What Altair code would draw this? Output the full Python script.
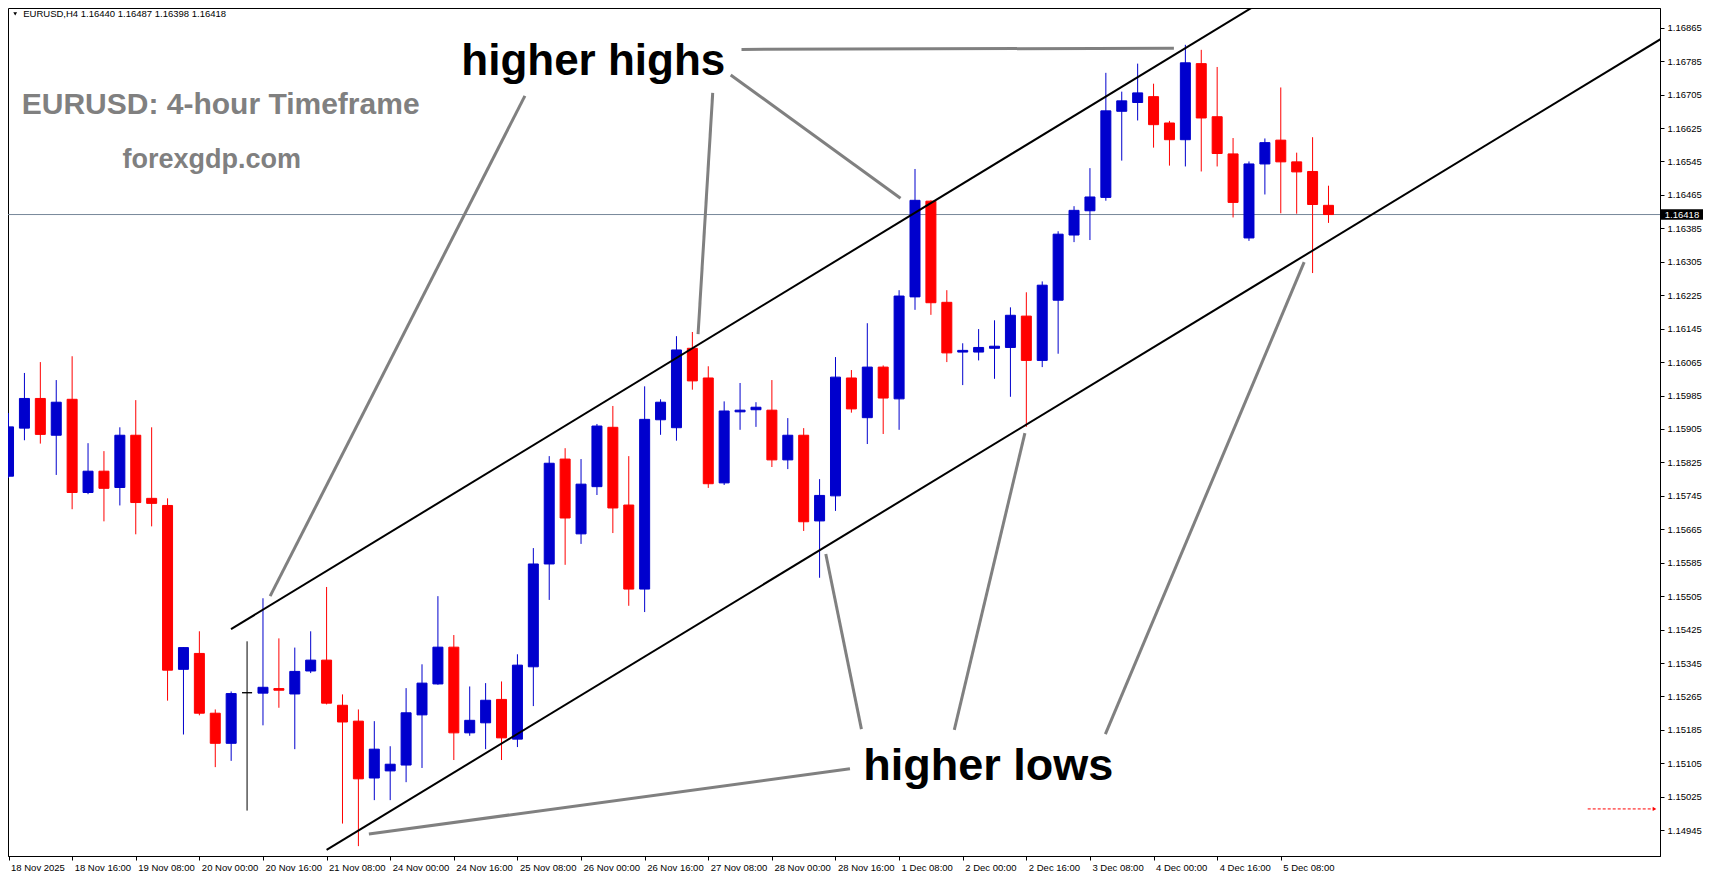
import json
import altair as alt
import pandas as pd

# ---------------- data ----------------
candle_index = list(range(84))
opens = [1.15792, 1.15907, 1.15978, 1.15890, 1.15976, 1.15753, 1.15804, 1.15765, 1.15890, 1.15739,
         1.15722, 1.15330, 1.15368, 1.15225, 1.15153, 1.15274, 1.15273, 1.15284, 1.15271, 1.15326,
         1.15352, 1.15244, 1.15206, 1.15070, 1.15087, 1.15101, 1.15221, 1.15295, 1.15383, 1.15178,
         1.15202, 1.15258, 1.15163, 1.15336, 1.15582, 1.15833, 1.15654, 1.15767, 1.15909, 1.15723,
         1.15522, 1.15927, 1.15908, 1.16098, 1.16027, 1.15776, 1.15946, 1.15951, 1.15950, 1.15831,
         1.15890, 1.15685, 1.15745, 1.16027, 1.15932, 1.16053, 1.15977, 1.16221, 1.16450, 1.16208,
         1.16089, 1.16089, 1.16098, 1.16100, 1.16175, 1.16069, 1.16213, 1.16369, 1.16427, 1.16459,
         1.16665, 1.16686, 1.16700, 1.16637, 1.16597, 1.16779, 1.16652, 1.16563, 1.16362, 1.16539,
         1.16596, 1.16544, 1.16521, 1.16440]
highs = [1.15943, 1.16039, 1.16065, 1.16022, 1.16079, 1.15871, 1.15852, 1.15909, 1.15974, 1.15909,
         1.15739, 1.15383, 1.15421, 1.15234, 1.15277, 1.15397, 1.15500, 1.15404, 1.15382, 1.15421,
         1.15527, 1.15270, 1.15234, 1.15206, 1.15146, 1.15285, 1.15342, 1.15505, 1.15412, 1.15289,
         1.15297, 1.15301, 1.15366, 1.15620, 1.15840, 1.15859, 1.15833, 1.15917, 1.15960, 1.15840,
         1.16007, 1.15976, 1.16127, 1.16137, 1.16055, 1.15971, 1.16015, 1.15969, 1.16022, 1.15931,
         1.15907, 1.15785, 1.16077, 1.16046, 1.16158, 1.16057, 1.16237, 1.16527, 1.16452, 1.16237,
         1.16110, 1.16144, 1.16165, 1.16196, 1.16232, 1.16258, 1.16378, 1.16438, 1.16529, 1.16757,
         1.16712, 1.16779, 1.16731, 1.16642, 1.16824, 1.16812, 1.16771, 1.16601, 1.16545, 1.16600,
         1.16722, 1.16566, 1.16603, 1.16487]
lows = [1.15788, 1.15878, 1.15870, 1.15795, 1.15713, 1.15749, 1.15684, 1.15722, 1.15653, 1.15672,
        1.15255, 1.15174, 1.15220, 1.15096, 1.15111, 1.14992, 1.15196, 1.15238, 1.15139, 1.15321,
        1.15246, 1.14961, 1.14907, 1.15017, 1.15017, 1.15060, 1.15094, 1.15293, 1.15113, 1.15171,
        1.15139, 1.15113, 1.15144, 1.15242, 1.15496, 1.15580, 1.15630, 1.15747, 1.15656, 1.15482,
        1.15467, 1.15891, 1.15877, 1.15999, 1.15764, 1.15771, 1.15903, 1.15910, 1.15814, 1.15809,
        1.15661, 1.15549, 1.15709, 1.15944, 1.15869, 1.15893, 1.15903, 1.16190, 1.16178, 1.16065,
        1.16010, 1.16069, 1.16025, 1.15982, 1.15910, 1.16053, 1.16085, 1.16352, 1.16357, 1.16451,
        1.16547, 1.16643, 1.16578, 1.16535, 1.16533, 1.16521, 1.16533, 1.16411, 1.16355, 1.16466,
        1.16421, 1.16420, 1.16278, 1.16398]
closes = [1.15910, 1.15978, 1.15892, 1.15969, 1.15753, 1.15804, 1.15763, 1.15890, 1.15729, 1.15727,
          1.15328, 1.15382, 1.15225, 1.15153, 1.15272, 1.15274, 1.15287, 1.15280, 1.15325, 1.15352,
          1.15249, 1.15204, 1.15068, 1.15139, 1.15103, 1.15226, 1.15297, 1.15383, 1.15178, 1.15208,
          1.15256, 1.15166, 1.15340, 1.15582, 1.15823, 1.15692, 1.15773, 1.15912, 1.15716, 1.15522,
          1.15928, 1.15969, 1.16094, 1.16020, 1.15774, 1.15948, 1.15950, 1.15957, 1.15831, 1.15890,
          1.15683, 1.15746, 1.16029, 1.15953, 1.16053, 1.15979, 1.16223, 1.16452, 1.16207, 1.16087,
          1.16093, 1.16100, 1.16103, 1.16177, 1.16069, 1.16249, 1.16371, 1.16428, 1.16460, 1.16666,
          1.16690, 1.16709, 1.16633, 1.16597, 1.16781, 1.16649, 1.16564, 1.16447, 1.16539, 1.16590,
          1.16544, 1.16520, 1.16442, 1.16418]

x_tick_values = [0, 4, 8, 12, 16, 20, 24, 28, 32, 36, 40, 44, 48, 52, 56, 60, 64, 68, 72, 76, 80]
x_tick_labels = ["18 Nov 2025", "18 Nov 16:00", "19 Nov 08:00", "20 Nov 00:00", "20 Nov 16:00",
                 "21 Nov 08:00", "24 Nov 00:00", "24 Nov 16:00", "25 Nov 08:00", "26 Nov 00:00",
                 "26 Nov 16:00", "27 Nov 08:00", "28 Nov 00:00", "28 Nov 16:00", "1 Dec 08:00",
                 "2 Dec 00:00", "2 Dec 16:00", "3 Dec 08:00", "4 Dec 00:00", "4 Dec 16:00",
                 "5 Dec 08:00"]
y_tick_values = [1.16865, 1.16785, 1.16705, 1.16625, 1.16545, 1.16465, 1.16385, 1.16305, 1.16225,
                 1.16145, 1.16065, 1.15985, 1.15905, 1.15825, 1.15745, 1.15665, 1.15585, 1.15505,
                 1.15425, 1.15345, 1.15265, 1.15185, 1.15105, 1.15025, 1.14945]

current_price = 1.16418
header_text = "EURUSD,H4  1.16440 1.16487 1.16398 1.16418"

# channel lines (segment id, index, price)
channel_seg = ["upper", "upper", "lower", "lower"]
channel_x = [13.99, 78.66, 20.0, 104.07]
channel_y = [1.15426, 1.16924, 1.14898, 1.16842]

# grey annotation pointers
pointer_seg = ["A", "A", "B", "B", "C", "C", "D", "D", "E", "E", "F", "F", "G", "G", "H", "H"]
pointer_x = [46.09, 73.28, 32.47, 16.45, 44.28, 43.36, 45.41, 56.09,
             22.66, 52.91, 53.63, 51.39, 59.47, 63.91, 68.97, 81.47]
pointer_y = [1.16813, 1.16816, 1.16702, 1.15505, 1.16709, 1.16132, 1.16752, 1.16457,
             1.14936, 1.15092, 1.15187, 1.15606, 1.15185, 1.15895, 1.15175, 1.16304]

label_text = ["higher highs", "higher lows"]
label_x = [28.47, 53.75]
label_y = [1.16752, 1.15066]
label_size = [44, 45]

title_text = ["EURUSD: 4-hour Timeframe"]
title_x = [0.83]
title_y = [1.16658]
site_text = ["forexgdp.com"]
site_x = [7.17]
site_y = [1.16530]

shift_marker_x = [99.3, 103.5]
shift_marker_y = 1.14996

# ---------------- chart ----------------
W, H = 1652, 848
x_scale = alt.Scale(domain=[0.28125, 0.28125 + W / 16], nice=False, zero=False)
y_scale = alt.Scale(domain=[1.148834, 1.169121], nice=False, zero=False)

df = pd.DataFrame({"i": candle_index, "open": opens, "high": highs, "low": lows, "close": closes})
df["dir"] = ["up" if c > o else ("down" if c < o else "flat") for o, c in zip(opens, closes)]
col_scale = alt.Scale(domain=["up", "down", "flat"], range=["#0000CD", "#FF0000", "#000000"])

FONT = "Liberation Sans"
label_expr = json.dumps(x_tick_labels) + "[round(datum.value / 4)]"

x_axis = alt.Axis(values=x_tick_values, labelExpr=label_expr, labelAlign="left", labelOffset=2,
                  labelPadding=2, tickSize=4, tickColor="black", domainColor="black",
                  labelFont=FONT, labelFontSize=9.5, labelColor="black", grid=False, title=None,
                  labelOverlap=False, labelFlush=False, labelBound=False)
y_axis = alt.Axis(orient="right", values=y_tick_values, format=".5f", tickSize=4, labelPadding=3,
                  tickColor="black", domainColor="black", labelFont=FONT, labelFontSize=9.5,
                  labelColor="black", grid=False, title=None, labelOverlap=False, labelFlush=False)


def X(field):
    return alt.X(field, scale=x_scale, axis=x_axis)


def Y(field):
    return alt.Y(field, scale=y_scale, axis=y_axis)


price_line = alt.Chart(pd.DataFrame({"p": [current_price]})).mark_rule(
    color="#778899", strokeWidth=1).encode(y=Y("p:Q"))

wicks = alt.Chart(df).mark_rule(strokeWidth=1, clip=True).encode(
    x=X("i:Q"), y=Y("low:Q"), y2="high:Q",
    color=alt.Color("dir:N", scale=col_scale, legend=None))

bodies = alt.Chart(df).mark_bar(size=10, strokeWidth=1, clip=True).encode(
    x=X("i:Q"), y=Y("open:Q"), y2="close:Q",
    color=alt.Color("dir:N", scale=col_scale, legend=None),
    stroke=alt.Stroke("dir:N", scale=col_scale, legend=None))

ch_df = pd.DataFrame({"seg": channel_seg, "x": channel_x, "y": channel_y})
channel = alt.Chart(ch_df).mark_line(color="black", strokeWidth=2, clip=True).encode(
    x=X("x:Q"), y=Y("y:Q"), detail="seg:N")

pt_df = pd.DataFrame({"seg": pointer_seg, "x": pointer_x, "y": pointer_y})
pointers = alt.Chart(pt_df).mark_line(color="#808080", strokeWidth=3, clip=True).encode(
    x=X("x:Q"), y=Y("y:Q"), detail="seg:N")

labels = alt.Chart(pd.DataFrame({"t": label_text, "x": label_x, "y": label_y,
                                 "s": label_size})).mark_text(
    font=FONT, fontWeight="bold", color="black", align="left",
    baseline="alphabetic").encode(
    x=X("x:Q"), y=Y("y:Q"), text="t:N",
    size=alt.Size("s:Q", scale=None, legend=None))

title = alt.Chart(pd.DataFrame({"t": title_text, "x": title_x, "y": title_y})).mark_text(
    font=FONT, fontSize=30, fontWeight="bold", color="#808080", align="left",
    baseline="alphabetic").encode(x=X("x:Q"), y=Y("y:Q"), text="t:N")

site = alt.Chart(pd.DataFrame({"t": site_text, "x": site_x, "y": site_y})).mark_text(
    font=FONT, fontSize=27, fontWeight="bold", color="#808080", align="left",
    baseline="alphabetic").encode(x=X("x:Q"), y=Y("y:Q"), text="t:N")

header = alt.Chart(pd.DataFrame({"t": [header_text], "x": [0.925], "y": [1.16897]})).mark_text(
    font=FONT, fontSize=9.5, color="black", align="left", baseline="middle").encode(
    x=X("x:Q"), y=Y("y:Q"), text="t:N")

header_tri = alt.Chart(pd.DataFrame({"x": [0.42], "y": [1.16898]})).mark_point(
    shape="triangle-down", filled=True, color="black", size=14, opacity=1).encode(
    x=X("x:Q"), y=Y("y:Q"))

tag_df = pd.DataFrame({"p": [current_price], "t": [f"{current_price:.5f}"]})
tag_box = alt.Chart(tag_df).mark_point(
    shape="M-1,-0.25L1,-0.25L1,0.25L-1,0.25Z", filled=True, color="black", opacity=1,
    size=1764).encode(
    x=alt.value(W + 22),
    y=Y("p:Q"))
tag_text = alt.Chart(tag_df).mark_text(
    font=FONT, fontSize=9.5, color="white", align="center", baseline="middle").encode(
    x=alt.value(W + 22),
    y=Y("p:Q"),
    text="t:N")

sm_df = pd.DataFrame({"x": [shift_marker_x[0]], "x2": [shift_marker_x[1]], "y": [shift_marker_y]})
shift_line = alt.Chart(sm_df).mark_rule(color="red", strokeWidth=1, strokeDash=[3, 2]).encode(
    x=X("x:Q"), x2="x2:Q", y=Y("y:Q"))
shift_head = alt.Chart(sm_df).mark_point(shape="triangle-right", filled=True, color="red",
                                         size=18, opacity=1).encode(
    x=X("x2:Q"), y=Y("y:Q"))

chart = alt.layer(
    price_line, wicks, bodies, channel, pointers, labels, title, site, header, header_tri,
    shift_line, shift_head, tag_box, tag_text
).resolve_scale(x="shared", y="shared").properties(
    width=W, height=H,
    padding={"left": 0, "top": 0, "right": 46, "bottom": 18},
    autosize=alt.AutoSizeParams(type="none"),
    background="white",
).configure_view(stroke="black", strokeWidth=1)

chart.save("out.html", embed_options={"renderer": "svg", "actions": False})
